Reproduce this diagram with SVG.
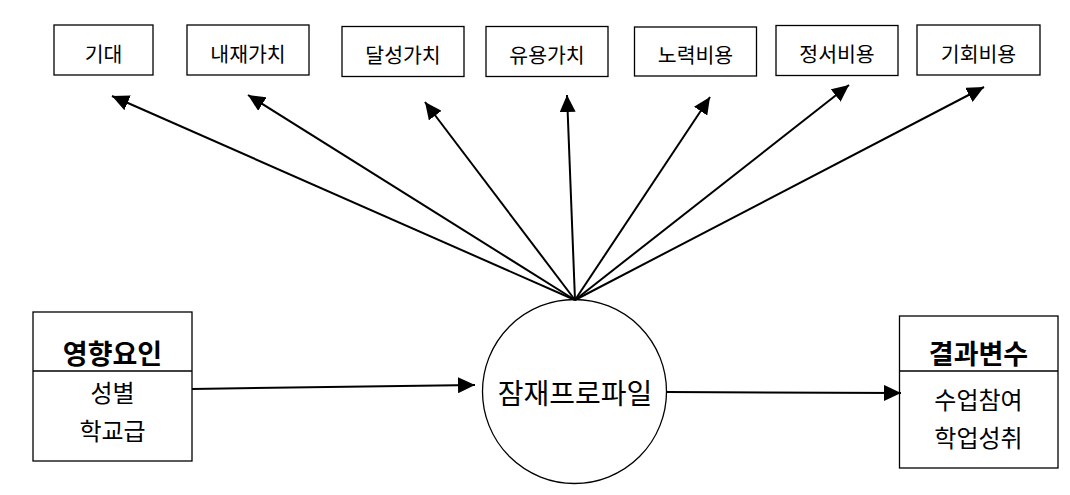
<svg xmlns="http://www.w3.org/2000/svg" width="1070" height="495" viewBox="0 0 1070 495">
<style>
.box{fill:#fff;stroke:#000;stroke-width:1.3}
.t{font-family:"Noto Sans CJK KR","Noto Sans",sans-serif;font-size:20.5px;fill:#000;text-anchor:middle;dominant-baseline:central}
.m{font-size:24px}
.b{font-size:27px;font-weight:bold}
.c{font-size:28px}
.ln{stroke:#000;stroke-width:2;fill:none;marker-end:url(#ah)}
</style>
<defs>
<marker id="ah" markerUnits="userSpaceOnUse" markerWidth="18" markerHeight="16" refX="17" refY="8" orient="auto">
<path d="M0,0 L17,8 L0,16 z" fill="#000"/>
</marker>
</defs>
<rect width="1070" height="495" fill="#fff"/>
<g id="n-expect"><rect class="box" x="54" y="25" width="99" height="50"/><text class="t" x="103.5" y="52.5">기대</text></g>
<g id="n-intrinsic"><rect class="box" x="187" y="25" width="122" height="50"/><text class="t" x="248" y="52.5">내재가치</text></g>
<g id="n-attain"><rect class="box" x="342" y="26.5" width="122" height="50"/><text class="t" x="403" y="54">달성가치</text></g>
<g id="n-utility"><rect class="box" x="486" y="26.5" width="122" height="50"/><text class="t" x="547" y="54">유용가치</text></g>
<g id="n-effort"><rect class="box" x="634.5" y="27" width="122" height="49"/><text class="t" x="695.5" y="54">노력비용</text></g>
<g id="n-emotion"><rect class="box" x="776" y="25.5" width="122" height="50"/><text class="t" x="837" y="53">정서비용</text></g>
<g id="n-opportunity"><rect class="box" x="917" y="25" width="123" height="50"/><text class="t" x="978.5" y="52.5">기회비용</text></g>
<g id="n-influence"><rect class="box" x="33" y="312" width="159" height="149"/><line x1="33" y1="371" x2="192" y2="371" stroke="#000" stroke-width="1.3"/><text class="t b" x="112.5" y="352">영향요인</text><text class="t m" x="112.5" y="391">성별</text><text class="t m" x="112.5" y="429">학교급</text></g>
<g id="n-profile"><circle class="box" cx="574.5" cy="391.5" r="92"/><text class="t c" x="575" y="392">잠재프로파일</text></g>
<g id="n-outcome"><rect class="box" x="899.5" y="316" width="158.5" height="152"/><line x1="899.5" y1="371" x2="1058" y2="371" stroke="#000" stroke-width="1.3"/><text class="t b" x="978.5" y="352">결과변수</text><text class="t m" x="978.5" y="398">수업참여</text><text class="t m" x="978.5" y="436">학업성취</text></g>
<g id="connectors">
<line class="ln" x1="575" y1="300" x2="112" y2="96"/>
<line class="ln" x1="575" y1="300" x2="248" y2="95"/>
<line class="ln" x1="575" y1="300" x2="425" y2="102"/>
<line class="ln" x1="575" y1="300" x2="567" y2="95"/>
<line class="ln" x1="575" y1="300" x2="710" y2="97"/>
<line class="ln" x1="575" y1="300" x2="849" y2="85"/>
<line class="ln" x1="575" y1="300" x2="984" y2="87"/>
<line class="ln" x1="192" y1="389" x2="475" y2="385"/>
<line class="ln" x1="667" y1="392" x2="901" y2="393"/>
</g>
</svg>
